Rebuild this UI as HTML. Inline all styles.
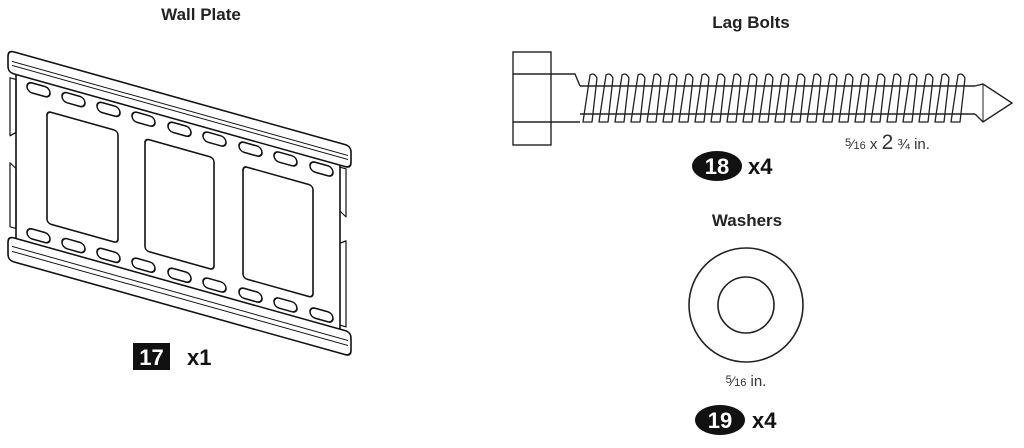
<!DOCTYPE html>
<html><head><meta charset="utf-8"><style>
html,body{margin:0;padding:0;background:#fff;width:1024px;height:448px;overflow:hidden}
svg{display:block}
text{font-family:"Liberation Sans",sans-serif}
.t{font-weight:bold;font-size:17px;fill:#222}
</style></head><body>
<svg width="1024" height="448" viewBox="0 0 1024 448" xmlns="http://www.w3.org/2000/svg">
<text class="t" x="201" y="20" text-anchor="middle">Wall Plate</text>
<text class="t" x="751" y="28" text-anchor="middle">Lag Bolts</text>
<text class="t" x="747" y="226" text-anchor="middle">Washers</text>

<!-- Wall plate -->
<g transform="matrix(1,0.28,0,1,0,0)" fill="none" stroke="#111" stroke-width="1.6" stroke-linejoin="round">
  <path d="M8,54 Q8,48 14,48 L345,48 Q351,48 351,54 L351,64 Q351,70 345,70 L14,70 Q8,70 8,64 Z"/>
  <line x1="12" y1="58" x2="348" y2="58" stroke-width="1"/>
  <line x1="12" y1="62" x2="348" y2="62" stroke-width="1"/>
  <path d="M16,70 L16,234 M340,70 L340,234"/>
  <path d="M10,75 L16,75 L16,128 L10,133 Z M10,160 L16,164 L16,224 L10,224 Z" stroke-width="1.2"/>
  <path d="M340,72 L346,72 L346,120 L340,116 M340,148 L346,144 L346,230 L340,230" stroke-width="1.2"/>
  <path d="M8,240 Q8,234 14,234 L345,234 Q351,234 351,240 L351,252 Q351,258 345,258 L14,258 Q8,258 8,252 Z"/>
  <line x1="12" y1="243" x2="348" y2="243" stroke-width="1"/>
  <line x1="12" y1="248" x2="348" y2="248" stroke-width="1"/>
  <rect x="47" y="98" width="71" height="112" rx="4"/>
  <rect x="145" y="98" width="69" height="112" rx="4"/>
  <rect x="243" y="98" width="70" height="112" rx="4"/>
  <g stroke-width="1.6">
    <rect x="27" y="74" width="23" height="10" rx="5"/><rect x="62" y="74" width="23" height="10" rx="5"/><rect x="97" y="74" width="23" height="10" rx="5"/><rect x="132" y="74" width="23" height="10" rx="5"/><rect x="168" y="74" width="23" height="10" rx="5"/><rect x="203" y="74" width="23" height="10" rx="5"/><rect x="239" y="74" width="23" height="10" rx="5"/><rect x="274" y="74" width="23" height="10" rx="5"/><rect x="310" y="74" width="23" height="10" rx="5"/>
    <rect x="27" y="220" width="23" height="10" rx="5"/><rect x="62" y="220" width="23" height="10" rx="5"/><rect x="97" y="220" width="23" height="10" rx="5"/><rect x="132" y="220" width="23" height="10" rx="5"/><rect x="168" y="220" width="23" height="10" rx="5"/><rect x="203" y="220" width="23" height="10" rx="5"/><rect x="239" y="220" width="23" height="10" rx="5"/><rect x="274" y="220" width="23" height="10" rx="5"/><rect x="310" y="220" width="23" height="10" rx="5"/>
  </g>
</g>
<rect x="133" y="343" width="37" height="27" fill="#111"/>
<text x="151.5" y="365" text-anchor="middle" font-weight="bold" font-size="22" fill="#fff">17</text>
<text x="187" y="365" font-weight="bold" font-size="22" fill="#111">x1</text>

<!-- Lag bolt -->
<g fill="none" stroke="#222" stroke-width="1.4">
  <rect x="513" y="52" width="38" height="93"/>
  <line x1="513" y1="74" x2="551" y2="74"/><line x1="513" y1="122" x2="551" y2="122"/>
  <path d="M551,74 L575,74 L580,86 M551,122 L580,122"/>
  <path d="M580,86 L975,86 M580,114 L975,114"/>
  <path d="M975,86 L983,84 L1012,103 L983,122 L975,114" />
  <line x1="983" y1="84" x2="983" y2="122" stroke-width="1"/>
  <g stroke-width="1.3">
    <path d="M583,122 L590,75 Q594,72 597,78 L592,122 Z"/>
    <path d="M599,122 L606,75 Q610,72 613,78 L608,122 Z"/>
    <path d="M615,122 L622,75 Q626,72 629,78 L624,122 Z"/>
    <path d="M631,122 L638,75 Q642,72 645,78 L640,122 Z"/>
    <path d="M647,122 L654,75 Q658,72 661,78 L656,122 Z"/>
    <path d="M663,122 L670,75 Q674,72 677,78 L672,122 Z"/>
    <path d="M679,122 L686,75 Q690,72 693,78 L688,122 Z"/>
    <path d="M695,122 L702,75 Q706,72 709,78 L704,122 Z"/>
    <path d="M711,122 L718,75 Q722,72 725,78 L720,122 Z"/>
    <path d="M727,122 L734,75 Q738,72 741,78 L736,122 Z"/>
    <path d="M743,122 L750,75 Q754,72 757,78 L752,122 Z"/>
    <path d="M759,122 L766,75 Q770,72 773,78 L768,122 Z"/>
    <path d="M775,122 L782,75 Q786,72 789,78 L784,122 Z"/>
    <path d="M791,122 L798,75 Q802,72 805,78 L800,122 Z"/>
    <path d="M807,122 L814,75 Q818,72 821,78 L816,122 Z"/>
    <path d="M823,122 L830,75 Q834,72 837,78 L832,122 Z"/>
    <path d="M839,122 L846,75 Q850,72 853,78 L848,122 Z"/>
    <path d="M855,122 L862,75 Q866,72 869,78 L864,122 Z"/>
    <path d="M871,122 L878,75 Q882,72 885,78 L880,122 Z"/>
    <path d="M887,122 L894,75 Q898,72 901,78 L896,122 Z"/>
    <path d="M903,122 L910,75 Q914,72 917,78 L912,122 Z"/>
    <path d="M919,122 L926,75 Q930,72 933,78 L928,122 Z"/>
    <path d="M935,122 L942,75 Q946,72 949,78 L944,122 Z"/>
    <path d="M951,122 L958,75 Q962,72 965,78 L960,122 Z"/>
  </g>
</g>
<text x="845" y="149" font-size="15" fill="#333"><tspan font-size="11" dy="-3">5</tspan><tspan font-size="14" dy="3">⁄</tspan><tspan font-size="11">16</tspan> x <tspan font-size="21">2</tspan> ¾ in.</text>
<ellipse cx="717" cy="166" rx="25" ry="15" fill="#111"/>
<text x="717" y="174" text-anchor="middle" font-weight="bold" font-size="22" fill="#fff">18</text>
<text x="748" y="174" font-weight="bold" font-size="22" fill="#111">x4</text>

<circle cx="746" cy="305" r="57" fill="none" stroke="#222" stroke-width="1.6"/>
<circle cx="746" cy="305" r="28" fill="none" stroke="#222" stroke-width="1.6"/>
<text x="746" y="386" text-anchor="middle" font-size="15" fill="#333"><tspan font-size="11" dy="-3">5</tspan><tspan font-size="14" dy="3">⁄</tspan><tspan font-size="11">16</tspan> in.</text>
<ellipse cx="720" cy="420" rx="25" ry="15" fill="#111"/>
<text x="720" y="428" text-anchor="middle" font-weight="bold" font-size="22" fill="#fff">19</text>
<text x="752" y="428" font-weight="bold" font-size="22" fill="#111">x4</text>
</svg>
</body></html>
